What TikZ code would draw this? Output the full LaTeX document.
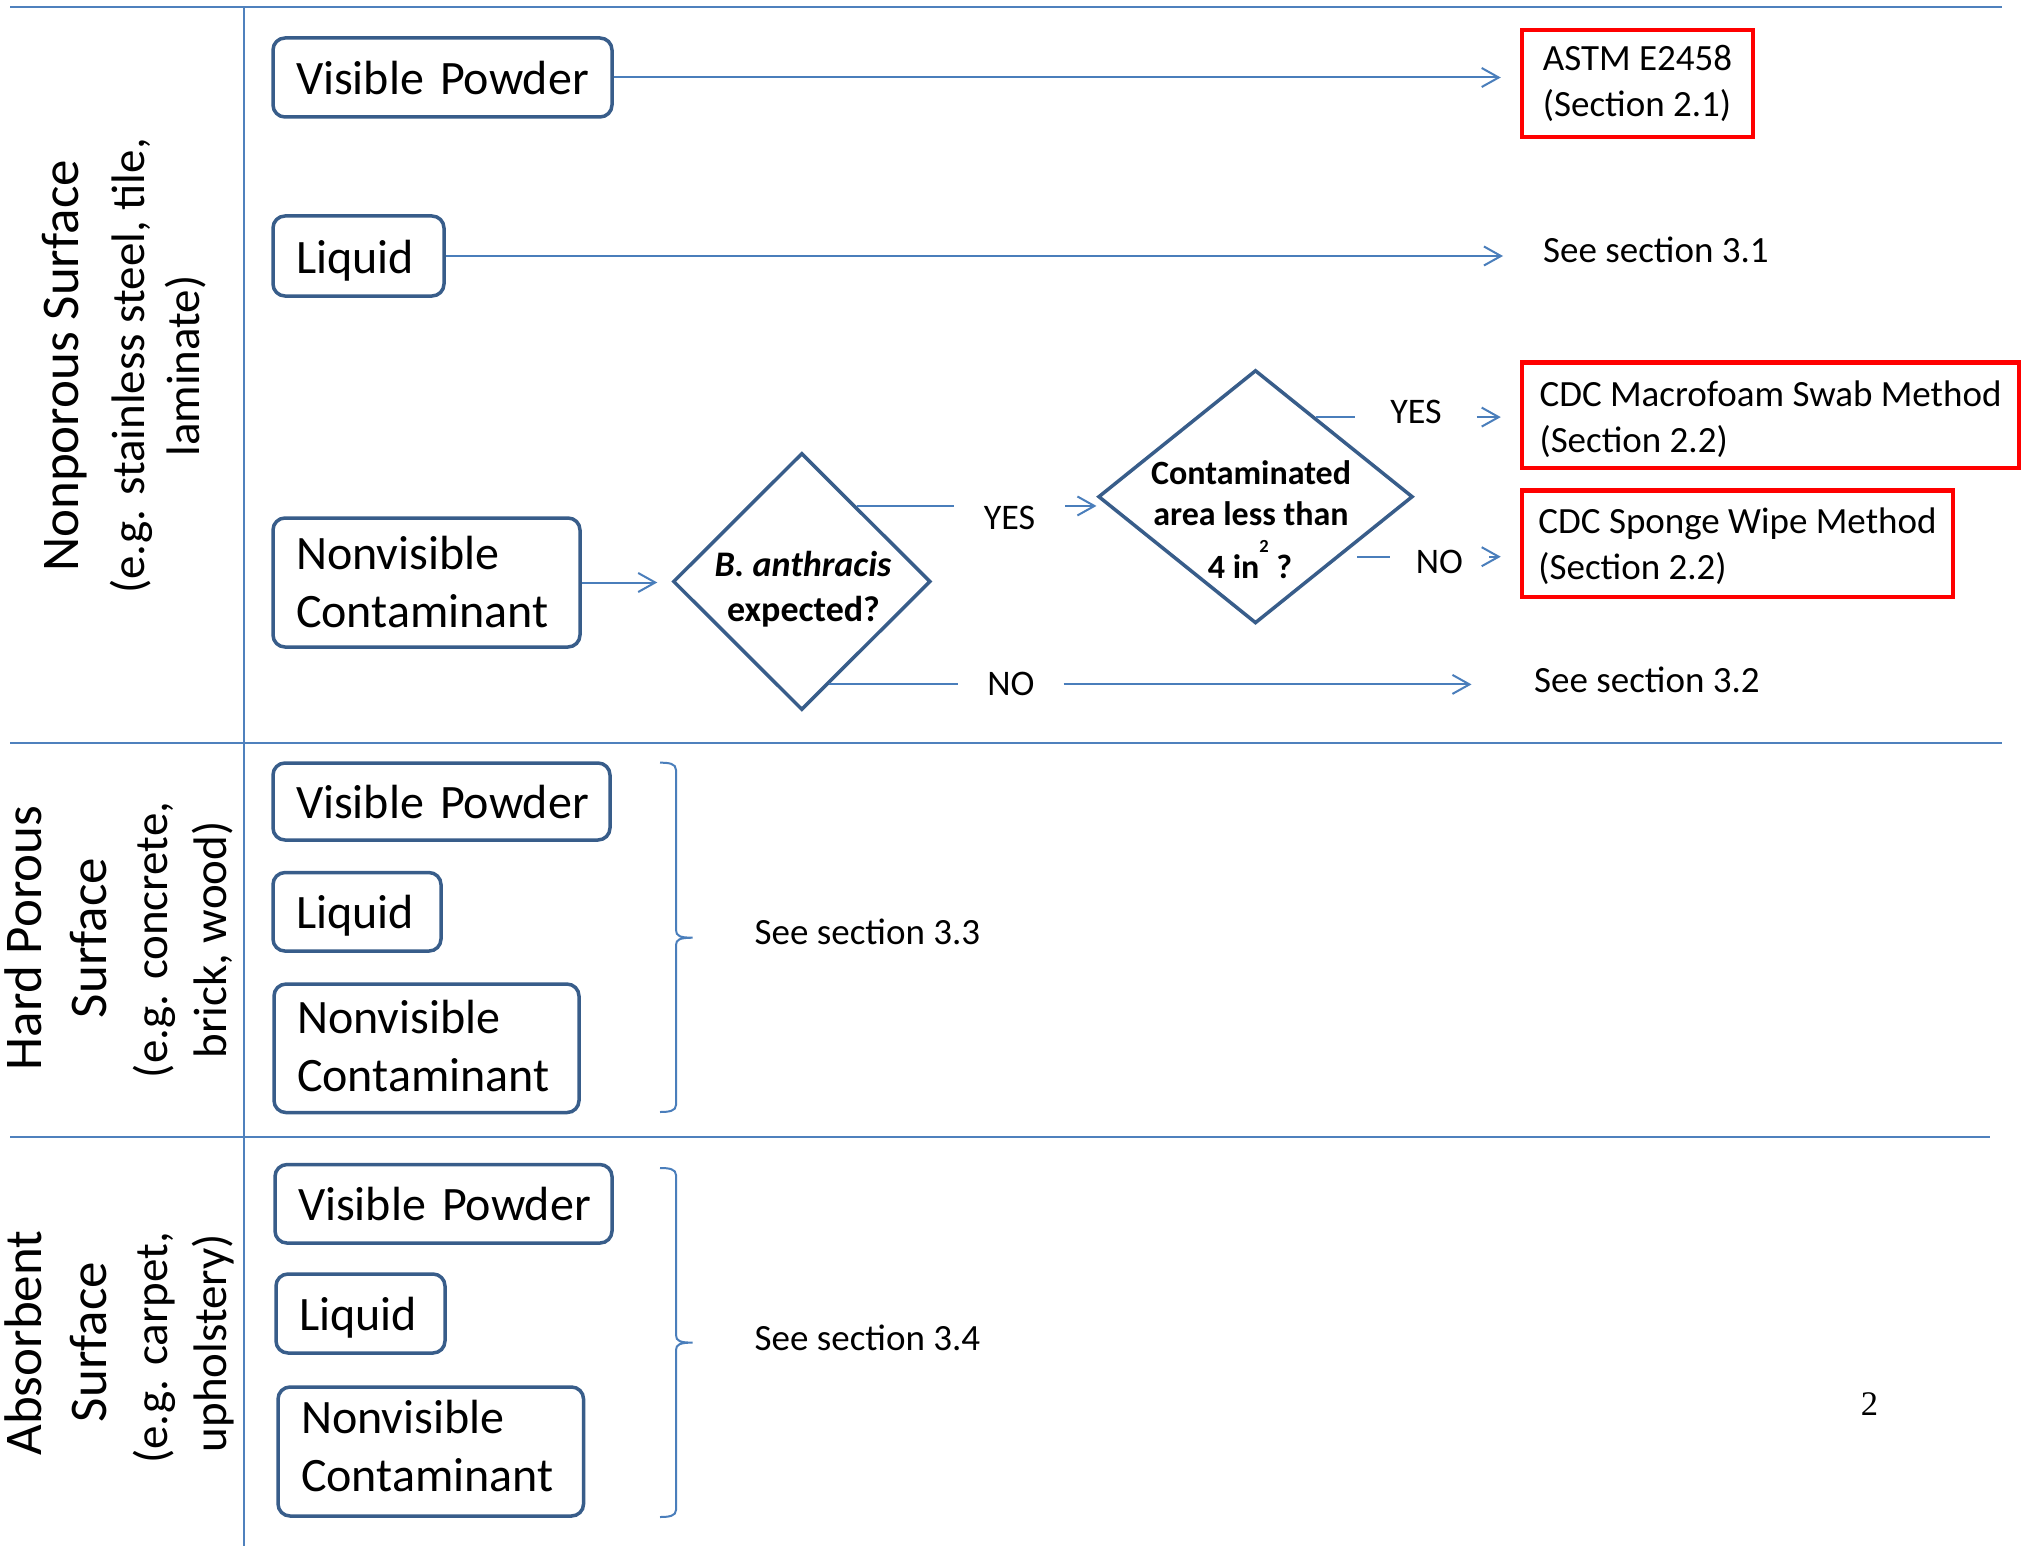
\documentclass[tikz,border=0pt]{standalone}
\usepackage{fontspec}
\setmainfont{Carlito}
\newfontfamily\timesfont{Liberation Serif}
\usetikzlibrary{shapes.geometric,arrows.meta,calc}
\definecolor{sepblue}{RGB}{79,129,189}
\definecolor{boxblue}{RGB}{56,93,138}
\definecolor{conblue}{RGB}{74,126,187}
\begin{document}
\begin{tikzpicture}[x=1pt,y=-1pt,
  sepline/.style={draw=sepblue,line width=2pt},
  conn/.style={draw=conblue,line width=2pt},
  arr/.style={conn,-{Straight Barb[length=17pt,width=19pt]}},
  bluebox/.style={draw=boxblue,line width=3.5pt,rounded corners=12pt,inner xsep=23pt,inner ysep=0pt,align=left,font=\fontsize{48}{58}\selectfont},
  onebox/.style={bluebox,text height=34pt,text depth=0pt},
  redbox/.style={draw=red,line width=4.5pt,inner sep=0pt,align=left,font=\fontsize{37}{46}\selectfont},
  dia/.style={draw=boxblue,line width=3.5pt,shape=diamond,inner sep=0pt},
  dtxt/.style={inner sep=0pt,anchor=base,font=\bfseries\fontsize{36}{43}\selectfont},
  dtxtb/.style={inner sep=0pt,anchor=base,font=\bfseries\fontsize{34}{41}\selectfont},
  seetxt/.style={inner sep=0pt,anchor=base west,font=\fontsize{37}{45}\selectfont},
  yn/.style={inner ysep=0pt,anchor=base,font=\fontsize{36}{43}\selectfont},
  ttl/.style={rotate=90,anchor=base,inner sep=0pt,font=\fontsize{53}{64}\selectfont},
  subttl/.style={rotate=90,anchor=base,inner sep=0pt,font=\fontsize{47}{57}\selectfont}]
\useasboundingbox (0,0) rectangle (2023,1546);
\fill[white] (0,0) rectangle (2023,1546);

% separators
\draw[sepline] (10,6.8) -- (2002,6.8);
\draw[sepline] (10,742.6) -- (2002,742.6);
\draw[sepline] (10,1136.6) -- (1990,1136.6);
\draw[sepline] (244,6.8) -- (244,1546);

% left labels
\node[ttl] (np1) at (78,366) {Nonporous Surface};
\node[subttl] (np2) at (144,366) {(e.g. stainless steel, tile,};
\node[subttl] (np3) at (199,366) {laminate)};

\node[ttl] (hp1) at (41,938) {Hard Porous};
\node[ttl] (hp2) at (106,938) {Surface};
\node[subttl] (hp3) at (167,940) {(e.g. concrete,};
\node[subttl] (hp4) at (226,940) {brick, wood)};

\node[ttl] (ab1) at (41,1343) {Absorbent};
\node[ttl] (ab2) at (106,1342) {Surface};
\node[subttl] (ab3) at (167,1348) {(e.g. carpet,};
\node[subttl] (ab4) at (226,1343) {upholstery)};

% section 1 boxes
\node[onebox,text width=293pt,minimum height=79pt] (vp1) at (442.5,77.5) {\mbox{Visible Powder}};
\node[onebox,text width=125pt,minimum height=80pt] (liq1) at (358.5,256) {Liquid};
\node[bluebox,text width=261pt,minimum height=129pt] (nv1) at (426.5,582.5) {Nonvisible\\Contaminant};

% red boxes
\node[redbox,minimum width=231pt,minimum height=107pt] (astm) at (1637.5,83.5) {ASTM E2458\\(Section 2.1)};
\node[redbox,minimum width=497pt,minimum height=105.5pt] (mac) at (1770.5,415.3) {\rule{0pt}{34pt}CDC Macrofoam Swab Method\\(Section 2.2)};
\node[redbox,minimum width=431pt,minimum height=106.5pt] (spg) at (1737.5,543.8) {\rule{0pt}{30pt}CDC Sponge Wipe Method\\(Section 2.2)};

% see section texts
\node[seetxt] (sec31) at (1543,263) {See section 3.1};
\node[seetxt] (sec32) at (1534,692) {See section 3.2};
\node[seetxt] (sec33) at (754.5,944) {See section 3.3};
\node[seetxt] (sec34) at (754.5,1350) {See section 3.4};

% diamonds
\node[dia,minimum width=257.6pt,minimum height=257pt] (d1) at (801.8,581.5) {};
\node[dtxt] (d1a) at (803,576) {\itshape B. anthracis};
\node[dtxt] (d1b) at (803.5,621) {expected?};

\node[dia,minimum width=314.6pt,minimum height=253.3pt] (d2) at (1255.5,496.7) {};
\node[dtxtb] (d2a) at (1251,484) {Contaminated};
\node[dtxtb] (d2b) at (1251,525) {area less than};
\node[dtxtb] (d2c) at (1250,578) {4 in\raisebox{26pt}{\fontsize{18.5}{20}\selectfont 2} ?};

% yes / no labels
\node[yn,inner xsep=30pt] (yes1) at (1009.5,529.5) {YES};
\node[yn,inner xsep=29pt] (no1) at (1010.8,695) {NO};
\node[yn,inner xsep=35pt] (yes2) at (1416,423) {YES};
\node[yn,inner xsep=26pt] (no2) at (1439.5,573.5) {NO};

% connectors section 1
\draw[arr,shorten >=19pt] (vp1.east) -- (astm.west |- vp1.east);
\draw[arr,shorten >=40pt] (liq1.east) -- (sec31.west |- liq1.east);
\draw[arr,shorten >=14pt] (nv1.east) -- (d1.west |- nv1.east);

\coordinate (y1s) at ($(d1.north)!0.42!(d1.east)$);
\draw[conn] (y1s) -- (yes1.west |- y1s);
\draw[arr] (yes1.east |- y1s) -- (d2.west |- y1s);

\coordinate (n1s) at ($(d1.east)!0.79!(d1.south)$);
\draw[conn] (n1s) -- (no1.west |- n1s);
\draw[arr,shorten >=62.5pt] (no1.east |- n1s) -- (sec32.west |- n1s);

\coordinate (y2s) at ($(d2.north)!0.38!(d2.east)$);
\draw[conn] (y2s) -- (yes2.west |- y2s);
\draw[arr,shorten >=19pt] (yes2.east |- y2s) -- (mac.west |- y2s);

\coordinate (n2s) at (1357,556.7);
\draw[conn] (n2s) -- (no2.west |- n2s);
\draw[arr,shorten >=19pt] (no2.east |- n2s) -- (spg.west |- n2s);

% section 2
\node[onebox,text width=291pt,minimum height=77pt] (vp2) at (441.5,801.5) {\mbox{Visible Powder}};
\node[onebox,text width=122pt,minimum height=78.5pt] (liq2) at (357,911.8) {Liquid};
\node[bluebox,text width=259pt,minimum height=128.5pt] (nv2) at (426.5,1048.3) {Nonvisible\\Contaminant\rule[-4pt]{0pt}{0pt}};
\draw[conn] (660,762.7) .. controls (669,762.7) and (676,763.5) .. (676,770) -- (676,930)
  .. controls (676,936) and (680,937.7) .. (692.7,937.7)
  .. controls (680,937.7) and (676,939.5) .. (676,945) -- (676,1105)
  .. controls (676,1111) and (669,1112) .. (660,1112);

% section 3
\node[onebox,text width=291pt,minimum height=78.5pt] (vp3) at (443.5,1203.8) {\mbox{Visible Powder}};
\node[onebox,text width=123pt,minimum height=79pt] (liq3) at (360.5,1313.5) {Liquid};
\node[bluebox,text width=259.5pt,minimum height=129pt] (nv3) at (430.8,1451.5) {Nonvisible\\Contaminant\rule[-12pt]{0pt}{0pt}};
\draw[conn] (660,1168) .. controls (669,1168) and (676,1169) .. (676,1175) -- (676,1335)
  .. controls (676,1341) and (680,1342.6) .. (692.7,1342.6)
  .. controls (680,1342.6) and (676,1344.5) .. (676,1350) -- (676,1510)
  .. controls (676,1516) and (669,1517) .. (660,1517);

% page number
\node[inner sep=0pt,anchor=base,font=\timesfont\fontsize{34.5}{40}\selectfont] (pg) at (1869.5,1415) {2};
\end{tikzpicture}
\end{document}
